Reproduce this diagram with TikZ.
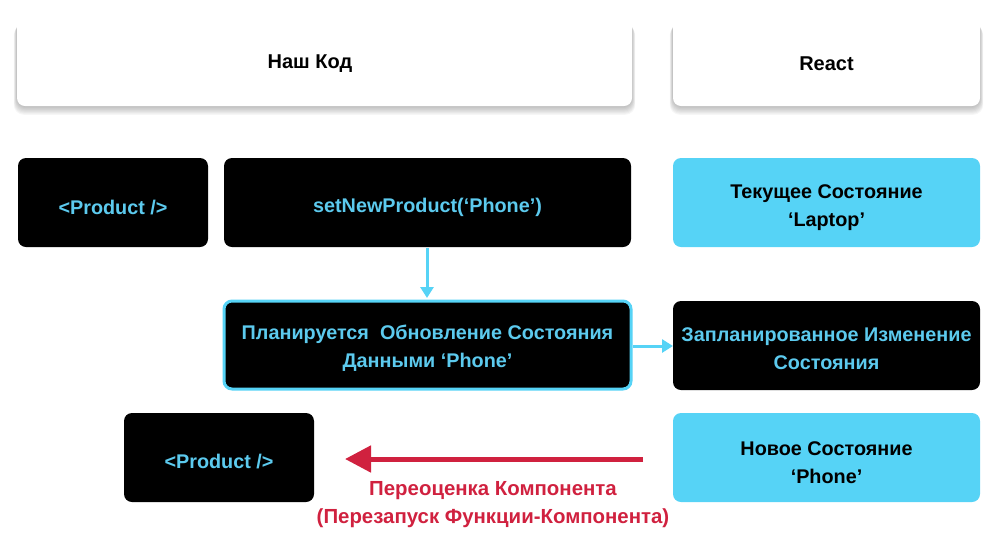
\documentclass[tikz,border=0pt]{standalone}
\usepackage{fontspec}
\setmainfont{Liberation Sans}
\usetikzlibrary{arrows.meta,calc}
\definecolor{rcyan}{HTML}{56D3F6}
\definecolor{tcyan}{HTML}{5CCAEE}
\definecolor{rred}{HTML}{D0213F}
\tikzset{
  hdr/.style={draw=none,fill=white,rounded corners=8pt},
  hdrtext/.style={font=\bfseries\fontsize{20}{22}\selectfont},
  blk/.style={fill=black,rounded corners=8pt,text=tcyan,font=\bfseries\fontsize{19.8}{28}\selectfont,align=center},
  cyb/.style={fill=rcyan,rounded corners=8pt,text=black,font=\bfseries\fontsize{19.8}{28}\selectfont,align=center},
  conn/.style={draw=rcyan,line width=3pt,-{Triangle[length=11pt,width=13pt]}},
}
\newcommand{\softshadow}[4]{%
  \foreach \k in {1,...,8}{%
    \fill[black,opacity=0.035,rounded corners=10pt]
      ($(#1-\k*0.4,#2+\k*0.8+3)$) rectangle ($(#3+\k*0.4,#4+\k*1.1)$);
  }}
\begin{document}
\begin{tikzpicture}[x=1pt,y=-1pt]
\useasboundingbox (0,0) rectangle (1001,542);
\softshadow{17}{16}{632}{106}
\softshadow{673}{16}{980}{106}
\path[hdr] (17,16) rectangle (632,106);
\node[hdrtext] (kod) at (310,64) {Наш Код};
\path[hdr] (673,16) rectangle (980,106);
\node[hdrtext] (react) at (826.5,64) {React};

\path[blk] (18,158) rectangle (208,247);
\node[blk,fill=none] (p1) at (113,207.5) {<Product />};
\path[blk] (224,158) rectangle (631,247);
\node[blk,fill=none] (set) at (427.5,207.5) {setNewProduct(‘Phone’)};
\path[cyb] (673,158) rectangle (980,247);
\node[cyb,fill=none] (cur) at (826.5,207.5) {Текущее Состояние\\‘Laptop’};

\path[blk,draw=rcyan,line width=3pt] (224,301) rectangle (631,389);
\node[blk,fill=none] (plan) at (427.5,348.5) {Планируется~ Обновление Состояния\\Данными ‘Phone’};
\path[blk] (673,301) rectangle (980,390);
\node[blk,fill=none] (zap) at (826.5,348.5) {Запланированное Изменение\\Состояния};

\path[blk] (124,413) rectangle (314,502);
\node[blk,fill=none] (p2) at (219,462) {<Product />};
\path[cyb] (673,413) rectangle (980,502);
\node[cyb,fill=none] (nov) at (826.5,462.5) {Новое Состояние\\‘Phone’};

\coordinate (a1s) at (427,248);
\coordinate (a1e) at (427,298);
\draw[conn] (a1s) -- (a1e);
\coordinate (a2s) at (633,346);
\coordinate (a2e) at (673,346);
\draw[conn] (a2s) -- (a2e);
\coordinate (r1) at (643,459);
\coordinate (r2) at (345,459);
\draw[draw=rred,line width=5pt,-{Triangle[length=26pt,width=26pt]}] (r1) -- (r2);
\node[text=rred,font=\bfseries\fontsize{20.4}{28}\selectfont,align=center] (lbl) at (493,505) {Переоценка Компонента\\(Перезапуск Функции-Компонента)};
\end{tikzpicture}
\end{document}
